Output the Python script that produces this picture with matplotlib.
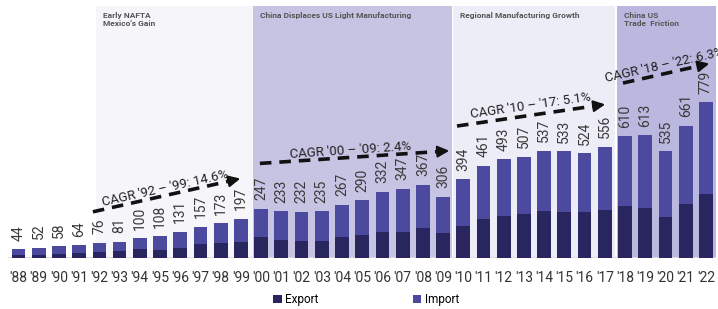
import math
import numpy as np
import matplotlib.pyplot as plt

years = ["'88", "'89", "'90", "'91", "'92", "'93", "'94", "'95", "'96", "'97", "'98", "'99",
         "'00", "'01", "'02", "'03", "'04", "'05", "'06", "'07", "'08", "'09",
         "'10", "'11", "'12", "'13", "'14", "'15", "'16", "'17",
         "'18", "'19", "'20", "'21", "'22"]
totals = [44, 52, 58, 64, 76, 81, 100, 108, 131, 157, 173, 197,
          247, 233, 232, 235, 267, 290, 332, 347, 367, 306,
          394, 461, 493, 507, 537, 533, 524, 556,
          610, 613, 535, 661, 779]
exports = [15, 17, 19, 24, 28, 33, 45, 40, 50, 70, 73, 81,
           105, 92, 87, 87, 103, 115, 128, 131, 148, 125,
           160, 195, 210, 220, 235, 232, 228, 240,
           260, 250, 205, 270, 320]
imports = [t - e for t, e in zip(totals, exports)]

# periods: (first year index, last year index, title)
periods = [(4, 11, "Early NAFTA\nMexico's Gain"),
           (12, 21, "China Displaces US Light Manufacturing"),
           (22, 29, "Regional Manufacturing Growth"),
           (30, 34, "China US\nTrade  Friction")]
period_colors = ['#f6f6fa', '#c7c3e3', '#ededf7', '#bab8df']

# CAGR arrows: (start index, start value, end index, end value, label)
cagr = [(3.68, 231, 11.10, 400, "CAGR '92 \u2013 '99: 14.6%"),
        (11.94, 473, 21.44, 537, "CAGR '00 \u2013 '09: 2.4%"),
        (21.69, 660, 29.15, 770, "CAGR '10 \u2013 '17: 5.1%"),
        (29.90, 875, 34.30, 975, "CAGR '18 \u2013 '22: 6.3%")]
cagr_text_pos = [(4.18, 262), (13.43, 500), (22.37, 700), (29.06, 882)]

plt.rcParams['font.family'] = ['Roboto', 'DejaVu Sans']

fig = plt.figure(figsize=(7.18, 3.09), dpi=100)
ax = fig.add_axes([0.0117, 0.165, 0.9855, 0.8155])
x = np.arange(len(years))
ax.set_xlim(-0.5, 34.5)
ax.set_ylim(0, 1260)

bounds = [(3.83, 11.60), (11.62, 21.44), (21.50, 29.52), (29.60, 34.6)]
for (i0, i1, title), (b0, b1), c in zip(periods, bounds, period_colors):
    ax.axvspan(b0, b1, color=c, lw=0, zorder=0)
    ax.text(b0 + 0.33, 1228, title, fontsize=6.0, fontweight='bold', color='#555555',
            va='top', ha='left', linespacing=1.15)

ax.axhline(0, color='#dcdcdc', lw=2, zorder=1)

w = 0.68
b1 = ax.bar(x, exports, w, color='#29265f', label='Export', zorder=2)
b2 = ax.bar(x, imports, w, bottom=exports, color='#4b4a9f', label='Import', zorder=2)

for xi, t in zip(x, totals):
    ax.annotate(str(t), (xi, t), xytext=(0, 6), textcoords='offset points',
                rotation=90, ha='center', va='bottom', fontsize=10, color='#3a3a3a')

# pixel scale for rotation angles
px_x = 20.22
px_y = 0.2
for (xs, ys, xe, ye, lab), (tx, ty) in zip(cagr, cagr_text_pos):
    ax.plot([xs, xe - 0.3], [ys, ys + (ye - ys) * (xe - 0.3 - xs) / (xe - xs)],
            color='#111111', lw=2.6, ls=(0, (3.2, 2.2)), zorder=4, clip_on=False)
    ax.annotate('', xy=(xe, ye), xytext=(xe - 0.5, ye - (ye - ys) * 0.5 / (xe - xs)),
                arrowprops=dict(arrowstyle='-|>,head_length=0.7,head_width=0.35',
                                color='#111111', lw=1.5), zorder=4, annotation_clip=False)
    ang = math.degrees(math.atan2((ye - ys) * px_y, (xe - xs) * px_x))
    ax.text(tx, ty, lab, rotation=ang, rotation_mode='anchor', ha='left', va='baseline',
            fontsize=9.5, color='#222222', zorder=5, clip_on=False)

ax.set_xticks(x)
ax.set_xticklabels(years, fontsize=10, color='#333333')
ax.tick_params(axis='x', length=0, pad=9)
ax.set_yticks([])
for s in ax.spines.values():
    s.set_visible(False)

fig.legend(handles=[b1, b2], loc='center', bbox_to_anchor=(0.51, 0.03), ncol=2,
           frameon=False, fontsize=8.5, handlelength=0.7, handleheight=0.7,
           handletextpad=0.3, columnspacing=8)

fig.savefig('out.png', dpi=100)
